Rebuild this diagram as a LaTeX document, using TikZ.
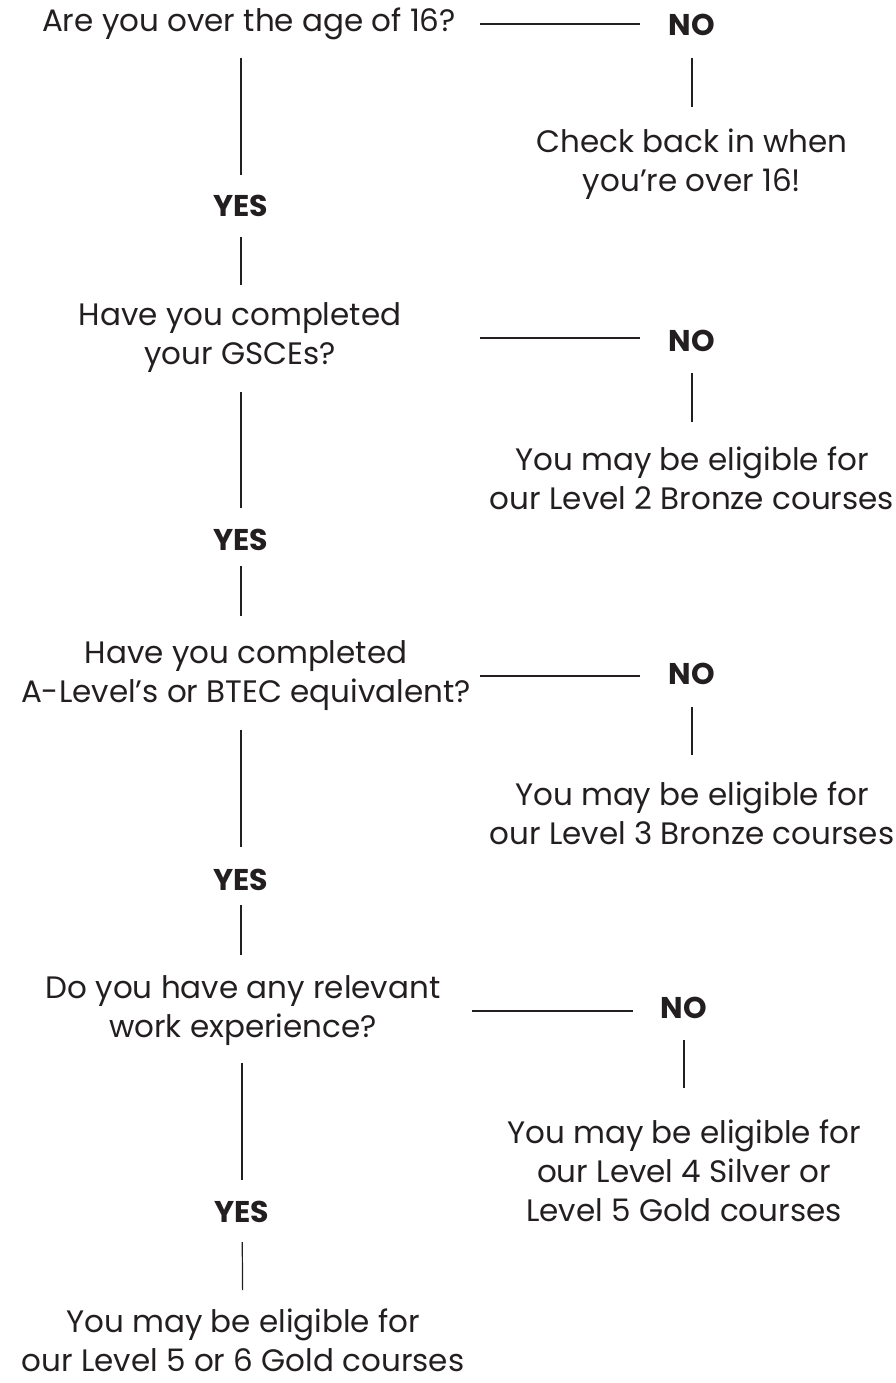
\documentclass[tikz,border=0pt]{standalone}
\usepackage{fontspec}
\setmainfont{Poppins}
\usepackage{tikz}
\usetikzlibrary{positioning}
\definecolor{ink}{HTML}{231F20}

\begin{document}
\begin{tikzpicture}[
    x=1pt, y=-1pt,
    every node/.style={align=center, inner sep=0pt, text=ink, font=\fontsize{31}{39}\selectfont},
    answer/.style={font=\fontsize{30}{34}\selectfont\bfseries},
    link/.style={draw=ink, line width=1.2pt}
]
\useasboundingbox (0,0) rectangle (896,1383);
% left column: questions
\node (age) at (249,24) {Are you over the age of 16?};
\node (yesage) [answer] at (241,206) {YES};
\node (gcse) at (240,338) {Have you completed\\your GSCEs?};
\node (yesgcse) [answer] at (241,540) {YES};
\node (alevel) at (246,676) {Have you completed\\A-Level's or BTEC equivalent?};
\node (yesalevel) [answer] at (241,880) {YES};
\node (work) at (243,1011) {Do you have any relevant\\work experience?};
\node (yeswork) [answer] at (242,1212) {YES};
\node (gold) at (243,1340) {You may be eligible for\\our Level 5 or 6 Gold courses};
% right column: outcomes
\node (noage) [answer] at (692,25) {NO};
\node (wait) at (692,164) {Check back in when\\you're over 16!};
\node (nogcse) [answer] at (692,341) {NO};
\node (bronzetwo) at (692,478) {You may be eligible for\\our Level 2 Bronze courses};
\node (noalevel) [answer] at (692,674) {NO};
\node (bronzethree) at (692,813) {You may be eligible for\\our Level 3 Bronze courses};
\node (nowork) [answer] at (684,1008) {NO};
\node (silver) at (684,1171) {You may be eligible for\\our Level 4 Silver or\\Level 5 Gold courses};
% links
\draw[link, shorten <=231pt, shorten >=52pt] (age.center) -- (age.center -| noage.center);
\draw[link, shorten <=33pt, shorten >=57pt] (noage.center) -- (wait.center);
\draw[link, shorten <=34pt, shorten >=31pt] (age.center -| yesage.center) -- (yesage.center);
\draw[link, shorten <=31pt, shorten >=53pt] (yesage.center) -- (yesage.center |- gcse.center);
\draw[link, shorten <=240pt, shorten >=52pt] (gcse.center) -- (gcse.center -| nogcse.center);
\draw[link, shorten <=32pt, shorten >=56pt] (nogcse.center) -- (bronzetwo.center);
\draw[link, shorten <=54pt, shorten >=32pt] (gcse.center -| yesgcse.center) -- (yesgcse.center);
\draw[link, shorten <=26pt, shorten >=60pt] (yesgcse.center) -- (yesgcse.center |- alevel.center);
\draw[link, shorten <=234pt, shorten >=52pt] (alevel.center) -- (alevel.center -| noalevel.center);
\draw[link, shorten <=33pt, shorten >=58pt] (noalevel.center) -- (bronzethree.center);
\draw[link, shorten <=54pt, shorten >=33pt] (alevel.center -| yesalevel.center) -- (yesalevel.center);
\draw[link, shorten <=25pt, shorten >=56pt] (yesalevel.center) -- (yesalevel.center |- work.center);
\draw[link, shorten <=229pt, shorten >=51pt] (work.center) -- (work.center -| nowork.center);
\draw[link, shorten <=32pt, shorten >=83pt] (nowork.center) -- (silver.center);
\draw[link, shorten <=52pt, shorten >=32pt] (work.center -| yeswork.center) -- (yeswork.center);
\draw[link, shorten <=30pt, shorten >=50pt] (yeswork.center) -- (gold.center);
\end{tikzpicture}
\end{document}
